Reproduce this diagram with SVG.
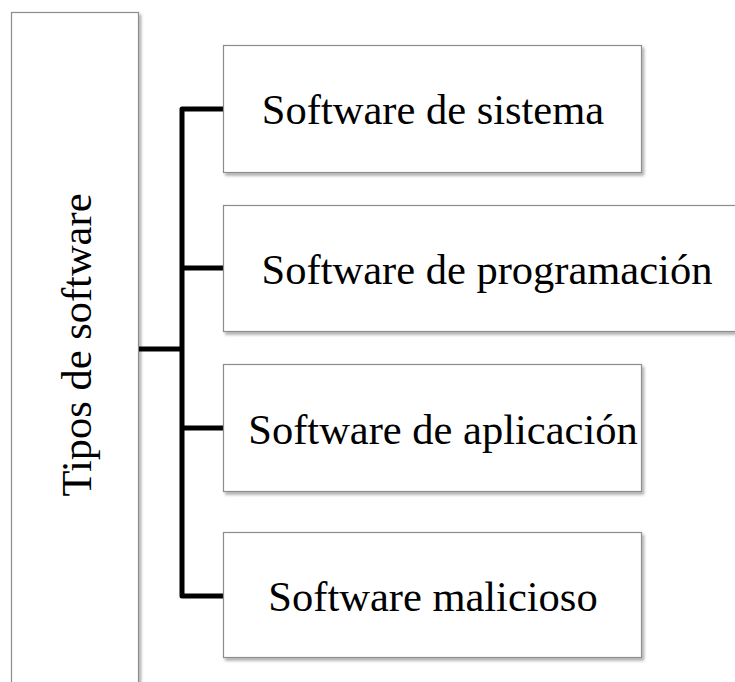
<svg xmlns="http://www.w3.org/2000/svg" width="735" height="682" viewBox="0 0 735 682">
<style>
.box{fill:#fff;stroke:#8c8c8c;stroke-width:1.2;filter:url(#sh)}
.t{font-family:"Liberation Serif","Times New Roman",serif;font-size:42.5px;fill:#000;text-anchor:middle}
.c{fill:none;stroke:#000;stroke-width:5;stroke-linejoin:round}
</style>
<defs>
<filter id="sh" x="-10%" y="-10%" width="130%" height="130%">
<feDropShadow dx="2" dy="2.5" stdDeviation="1.8" flood-color="#000" flood-opacity="0.35"/>
</filter>
</defs>
<rect width="735" height="682" fill="#fff"/>
<g id="root"><rect class="box" x="11.5" y="12.5" width="127" height="690"/><text class="t" transform="translate(91,345) rotate(-90)">Tipos de software</text></g>
<g id="connectors">
<path class="c" d="M139,349 H182"/>
<path class="c" d="M223,109 H182 V596 H223"/>
<path class="c" d="M182,268 H223"/>
<path class="c" d="M182,428 H223"/>
</g>
<g id="n1"><rect class="box" x="223.5" y="45.5" width="418" height="127"/><text class="t" x="433" y="124">Software de sistema</text></g>
<g id="n2"><rect class="box" x="223.5" y="205.5" width="530" height="126"/><text class="t" x="487" y="284">Software de programación</text></g>
<g id="n3"><rect class="box" x="223.5" y="364.5" width="418" height="127"/><text class="t" x="443" y="444">Software de aplicación</text></g>
<g id="n4"><rect class="box" x="223.5" y="532.5" width="418" height="125"/><text class="t" x="433" y="611">Software malicioso</text></g>
</svg>
